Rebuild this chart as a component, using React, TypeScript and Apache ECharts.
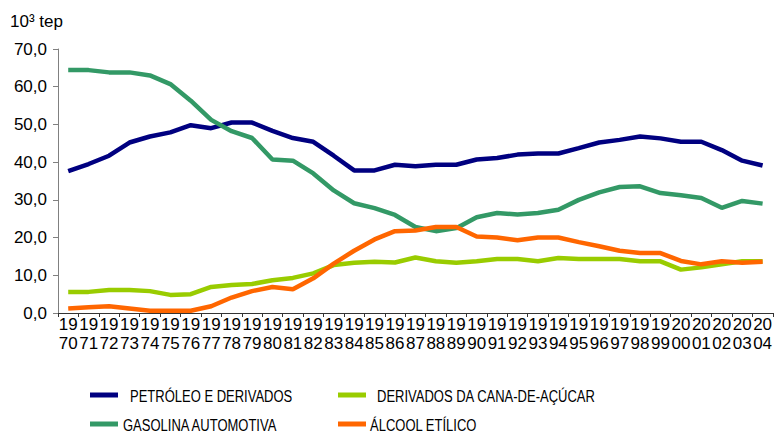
import React, { useEffect, useRef } from "react";
import * as echarts from "echarts";

const years = [
  "1970","1971","1972","1973","1974","1975","1976","1977","1978","1979",
  "1980","1981","1982","1983","1984","1985","1986","1987","1988","1989",
  "1990","1991","1992","1993","1994","1995","1996","1997","1998","1999",
  "2000","2001","2002","2003","2004",
];

const petroleo = [
  37.6, 39.5, 41.7, 45.2, 46.8, 47.9, 49.8, 49.0, 50.5, 50.5,
  48.3, 46.4, 45.4, 41.7, 37.8, 37.8, 39.3, 38.9, 39.3, 39.3,
  40.7, 41.1, 42.0, 42.3, 42.3, 43.7, 45.2, 45.9, 46.8, 46.3,
  45.4, 45.4, 43.2, 40.4, 39.1,
];

const gasolina = [
  64.4, 64.4, 63.8, 63.8, 63.0, 60.7, 56.3, 51.2, 48.2, 46.4,
  40.7, 40.4, 37.0, 32.5, 29.1, 27.8, 26.0, 22.8, 21.7, 22.5,
  25.4, 26.5, 26.1, 26.5, 27.4, 30.0, 32.0, 33.4, 33.6, 31.8,
  31.2, 30.5, 27.9, 29.7, 29.0,
];

const derivadosCana = [
  5.6, 5.6, 6.1, 6.1, 5.8, 4.8, 5.0, 6.9, 7.4, 7.7,
  8.7, 9.3, 10.5, 12.7, 13.3, 13.6, 13.4, 14.7, 13.7, 13.3,
  13.7, 14.3, 14.3, 13.7, 14.6, 14.3, 14.3, 14.3, 13.7, 13.7,
  11.5, 12.1, 12.9, 13.7, 13.7,
];

const alcool = [
  1.2, 1.5, 1.8, 1.2, 0.6, 0.6, 0.6, 1.8, 4.1, 5.8,
  6.9, 6.3, 9.2, 13.1, 16.5, 19.5, 21.7, 21.9, 22.8, 22.8,
  20.3, 20.0, 19.3, 20.0, 20.0, 18.8, 17.7, 16.5, 15.9, 15.9,
  13.8, 12.9, 13.7, 13.3, 13.6,
];

const seriesNames = [
  "PETRÓLEO E DERIVADOS",
  "DERIVADOS DA CANA-DE-AÇÚCAR",
  "GASOLINA AUTOMOTIVA",
  "ÁLCOOL ETÍLICO",
];
const seriesColors = ["#000080", "#99CC00", "#339966", "#FF6600"];
const seriesData = [petroleo, derivadosCana, gasolina, alcool];

const FONT = "Arial, 'Liberation Sans', sans-serif";

export default function App() {
  const ref = useRef<HTMLDivElement>(null);

  useEffect(() => {
    document.body.style.margin = "0";
    if (!ref.current) return;
    const chart = echarts.init(ref.current, undefined, { renderer: "svg" });

    // legend layout (icon x, text x, row center y) — condensed text like the reference
    const legendLayout = [
      { ix: 90, tx: 130, cy: 395 },
      { ix: 338, tx: 377, cy: 395 },
      { ix: 90, tx: 123, cy: 424 },
      { ix: 338, tx: 370, cy: 424 },
    ];

    const legendGraphics: any[] = [];
    seriesNames.forEach((name, i) => {
      const l = legendLayout[i];
      legendGraphics.push({
        type: "rect",
        shape: { x: l.ix, y: l.cy - 2.5, width: 28, height: 5 },
        style: { fill: seriesColors[i] },
        silent: true,
      });
      legendGraphics.push({
        type: "text",
        x: l.tx,
        y: l.cy + 1,
        scaleX: 0.765,
        style: {
          text: name,
          fontFamily: FONT,
          fontSize: 17,
          fill: "#000",
          textAlign: "left",
          textVerticalAlign: "middle",
          verticalAlign: "middle",
        },
        silent: true,
      });
    });

    chart.setOption({
      animation: false,
      grid: { left: 58, top: 49, right: -2, bottom: 121, containLabel: false },
      graphic: [
        {
          type: "text",
          left: 10,
          top: 13,
          style: { text: "10³ tep", fontFamily: FONT, fontSize: 17, fill: "#000" },
        },
        ...legendGraphics,
      ],
      xAxis: {
        type: "category",
        data: years,
        boundaryGap: true,
        axisLine: { show: true, lineStyle: { color: "#333", width: 1 } },
        axisTick: { show: true, length: 4, lineStyle: { color: "#333" } },
        axisLabel: {
          interval: 0,
          margin: 2,
          fontFamily: FONT,
          fontSize: 17,
          lineHeight: 19,
          color: "#000",
          formatter: (v: string) => v.slice(0, 2) + "\n" + v.slice(2),
        },
        splitLine: { show: false },
      },
      yAxis: {
        type: "value",
        min: 0,
        max: 70,
        interval: 10,
        axisLine: { show: true, lineStyle: { color: "#808080", width: 1 } },
        axisTick: { show: true, length: 5, lineStyle: { color: "#808080" } },
        axisLabel: {
          margin: 11,
          fontFamily: FONT,
          fontSize: 17,
          color: "#000",
          formatter: (v: number) => v.toFixed(1).replace(".", ","),
        },
        splitLine: { show: false },
      },
      series: seriesNames.map((name, i) => ({
        name,
        type: "line",
        data: seriesData[i],
        symbol: "none",
        smooth: false,
        lineStyle: { color: seriesColors[i], width: 4.5 },
        itemStyle: { color: seriesColors[i] },
      })),
    });

    return () => chart.dispose();
  }, []);

  return <div ref={ref} style={{ width: 775, height: 434 }} />;
}
